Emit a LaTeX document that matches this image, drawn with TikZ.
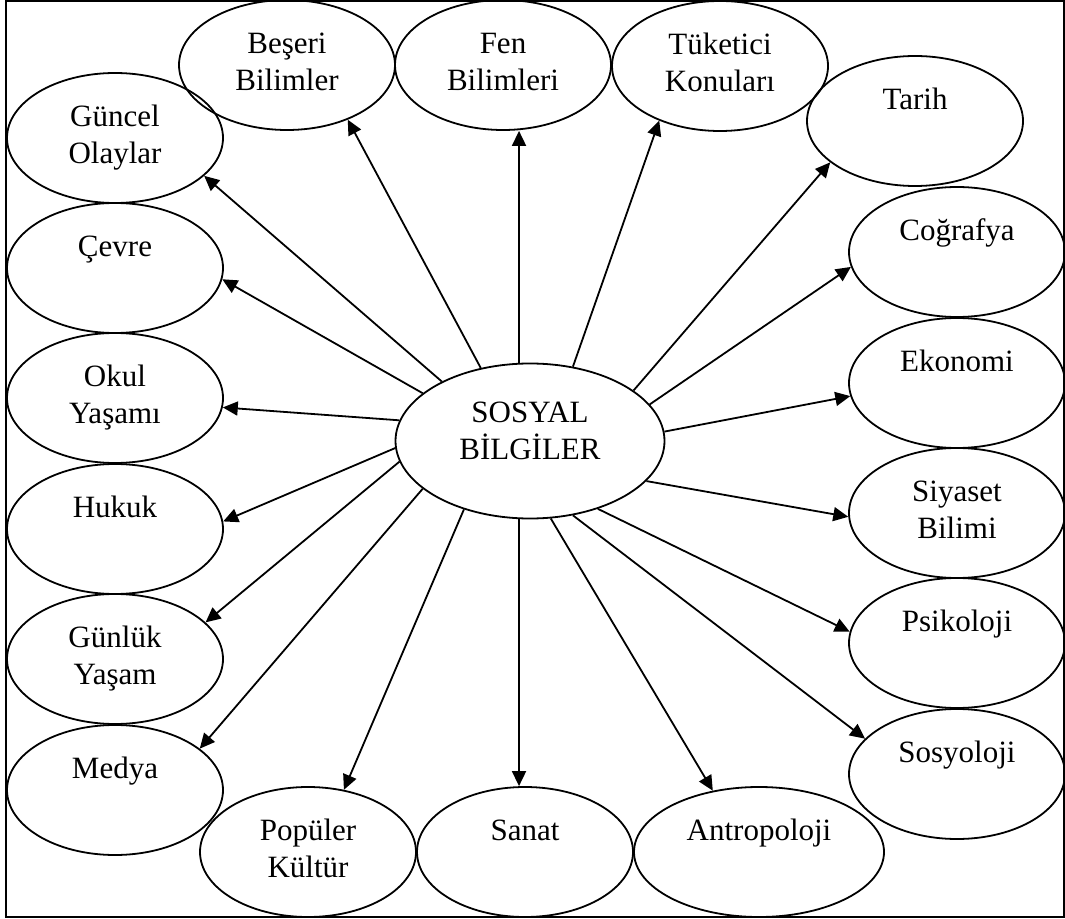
\documentclass[tikz,border=0pt]{standalone}
\usepackage{fontspec}
\setmainfont{Liberation Serif}
\usetikzlibrary{arrows.meta,shapes.geometric}
\newcommand{\deuxlignes}[2]{\strut #1\\\strut #2}

\begin{document}
\begin{tikzpicture}[x=0.5pt,y=-0.5pt]

% définition des styles
\tikzstyle{bulle}=[ellipse,draw,line width=0.9pt,inner sep=0pt,minimum width=108pt,minimum height=65pt,align=center,font=\fontsize{15.5}{18.5}\selectfont]
\tikzstyle{fleche}=[-{Triangle[length=7.5pt,width=7pt]},line width=0.9pt]

\useasboundingbox (0,0) rectangle (1065,919);

% le cadre
\draw[line width=1pt] (6,1.5) rectangle (1063.5,917);

% les ellipses
\node[bulle,minimum width=134.5pt,minimum height=77.5pt] (sb) at (530,441) {\strut SOSYAL\\\strut BİLGİLER\rule[-12.5pt]{0pt}{12.5pt}};
\node[bulle] (beseri) at (287,65) {\deuxlignes{Beşeri}{Bilimler}};
\node[bulle] (fen) at (503,65) {\deuxlignes{Fen}{Bilimleri}};
\node[bulle] (tuketici) at (720,66) {\deuxlignes{Tüketici}{Konuları}};
\node[bulle] (tarih) at (915,121) {\deuxlignes{Tarih}{}};
\node[bulle] (cografya) at (957,252) {\deuxlignes{Coğrafya}{}};
\node[bulle] (ekonomi) at (957,383) {\deuxlignes{Ekonomi}{}};
\node[bulle] (siyaset) at (957,513) {\deuxlignes{Siyaset}{Bilimi}};
\node[bulle] (psikoloji) at (957,643) {\deuxlignes{Psikoloji}{}};
\node[bulle] (sosyoloji) at (957,774) {\deuxlignes{Sosyoloji}{}};
\node[bulle,minimum width=125pt] (antropoloji) at (759,852) {\deuxlignes{Antropoloji}{}};
\node[bulle] (sanat) at (525,852) {\deuxlignes{Sanat}{}};
\node[bulle] (populer) at (308,852) {\deuxlignes{Popüler}{Kültür}};
\node[bulle] (medya) at (115,790) {\deuxlignes{Medya}{}};
\node[bulle] (gunluk) at (115,659) {\deuxlignes{Günlük}{Yaşam}};
\node[bulle] (hukuk) at (115,529) {\deuxlignes{Hukuk}{}};
\node[bulle] (okul) at (115,398) {\deuxlignes{Okul}{Yaşamı}};
\node[bulle] (cevre) at (115,268) {\deuxlignes{Çevre}{}};
\node[bulle] (guncel) at (115,138) {\deuxlignes{Güncel}{Olaylar}};

% les flèches
\draw[fleche] (sb.98) -- (sb.98 |- fen.south);
\draw[fleche] (sb.124) -- (beseri.318);
\draw[fleche] (sb.60) -- (tuketici.222);
\draw[fleche] (sb.26) -- (tarih.206);
\draw[fleche] (sb.17) -- (cografya.188);
\draw[fleche] (sb.4) -- (ekonomi.187);
\draw[fleche] (sb.341) -- (siyaset.182);
\draw[fleche] (sb.315) -- (psikoloji.174);
\draw[fleche] (sb.300) -- (sosyoloji.159);
\draw[fleche] (sb.285) -- (antropoloji.127);
\draw[fleche] (sb.262) -- (sb.262 |- sanat.north);
\draw[fleche] (sb.226) -- (populer.60);
\draw[fleche] (sb.204) -- (medya.26);
\draw[fleche] (sb.189) -- (gunluk.22);
\draw[fleche] (sb.183) -- (hukuk.4);
\draw[fleche] (sb.171) -- (okul.355);
\draw[fleche] (sb.156) -- (cevre.354);
\draw[fleche] (sb.146) -- (guncel.337);

\end{tikzpicture}
\end{document}
